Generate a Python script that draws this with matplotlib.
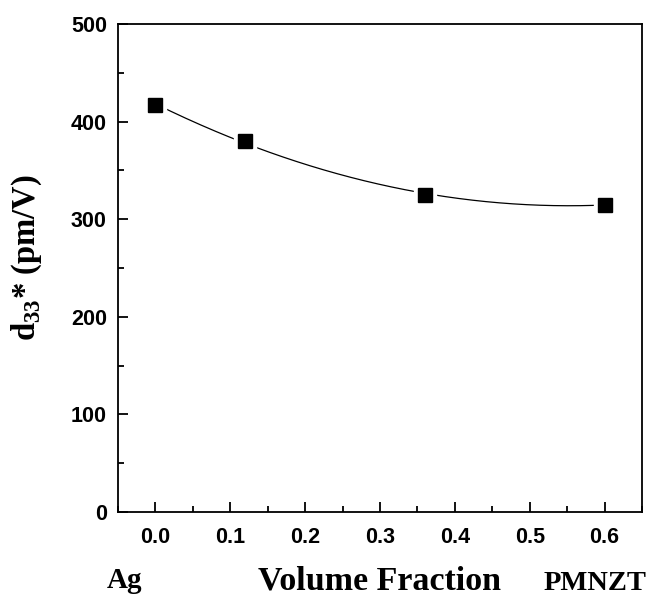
import numpy as np
import matplotlib.pyplot as plt

# volume fraction of Ag and measured d33*
volumeFraction = [0.0, 0.12, 0.36, 0.6]
d33 = [417, 380, 325, 315]

xTicks = [0.0, 0.1, 0.2, 0.3, 0.4, 0.5, 0.6]
yTicks = [0, 100, 200, 300, 400, 500]

serif = 'Liberation Serif'
plt.rcParams['mathtext.fontset'] = 'custom'
plt.rcParams['mathtext.rm'] = serif
plt.rcParams['mathtext.bf'] = serif + ':bold'

fig = plt.figure(figsize=(6.61, 5.97), dpi=100)
ax = fig.add_axes([118 / 661, 1 - 512 / 597, (642 - 118) / 661, (512 - 24) / 597])

# smooth guide line through the points (quadratic fit)
coeffs = np.polyfit(volumeFraction, d33, 2)
xs = np.linspace(min(volumeFraction), max(volumeFraction), 300)
ax.plot(xs, np.polyval(coeffs, xs), color='black', linewidth=0.9, zorder=1)

# white halo so the line stops short of each marker
ax.plot(volumeFraction, d33, linestyle='none', marker='s', markersize=16,
        color='white', zorder=2)
ax.plot(volumeFraction, d33, linestyle='none', marker='s', markersize=9.6,
        color='black', zorder=3)

ax.set_xlim(-0.05, 0.65)
ax.set_ylim(0, 500)
ax.set_xticks(xTicks)
ax.set_yticks(yTicks)
ax.set_xticks(np.arange(-0.05, 0.66, 0.1), minor=True)
ax.set_yticks(np.arange(50, 500, 100), minor=True)
ax.set_xticklabels([f"{t:.1f}" for t in xTicks])
ax.set_yticklabels([str(t) for t in yTicks])

for side in ax.spines.values():
    side.set_linewidth(1.3)
ax.tick_params(which='both', direction='in', width=1.3, top=False, right=False)
ax.tick_params(which='major', length=7.5)
ax.tick_params(which='minor', length=4.5)
ax.tick_params(axis='x', pad=11)
ax.tick_params(axis='y', pad=8)
for lbl in ax.get_xticklabels() + ax.get_yticklabels():
    lbl.set_fontfamily('Liberation Sans')
    lbl.set_fontweight('bold')
    lbl.set_fontsize(15.5)

fig.text(27 / 661, 1 - 258 / 597, r'd$_{\mathbf{33}}$* (pm/V)', rotation=90,
         ha='center', va='center', fontfamily=serif, fontweight='bold', fontsize=23.5)
fig.text(125 / 661, 1 - 588 / 597, 'Ag', ha='center', va='baseline',
         fontfamily=serif, fontweight='bold', fontsize=21)
fig.text(380 / 661, 1 - 590 / 597, 'Volume Fraction', ha='center', va='baseline',
         fontfamily=serif, fontweight='bold', fontsize=24.5)
fig.text(595 / 661, 1 - 590 / 597, 'PMNZT', ha='center', va='baseline',
         fontfamily=serif, fontweight='bold', fontsize=20.5)

fig.savefig('out.png', dpi=100)
